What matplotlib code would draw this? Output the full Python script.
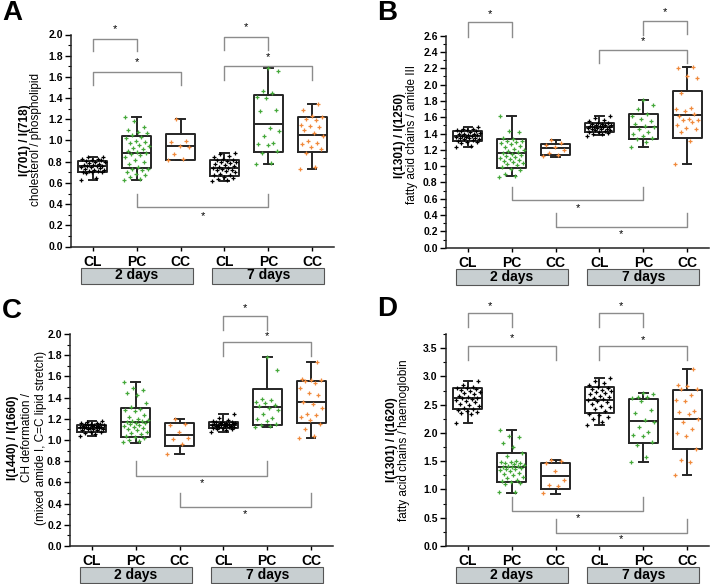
import matplotlib
matplotlib.use("Agg")
import matplotlib.pyplot as plt
from matplotlib.patches import Rectangle
from matplotlib.ticker import MultipleLocator
import numpy as np

plt.rcParams['font.family'] = ['Liberation Sans', 'DejaVu Sans']

groups = ['CL', 'PC', 'CC', 'CL', 'PC', 'CC']
days = ['2 days', '7 days']
colors = ['black', '#45a83a', '#f08a3c', 'black', '#45a83a', '#f08a3c']

# ---- panel A: cholesterol / phospholipid ----
a_points = [
    [0.63, 0.65, 0.69, 0.70, 0.70, 0.70, 0.71, 0.71, 0.72, 0.72, 0.73, 0.74, 0.75, 0.75, 0.76,
     0.76, 0.76, 0.77, 0.77, 0.78, 0.79, 0.80, 0.80, 0.81, 0.82, 0.82, 0.83, 0.83, 0.84, 0.84],
    [0.63, 0.64, 0.66, 0.67, 0.68, 0.70, 0.72, 0.73, 0.73, 0.75, 0.78, 0.80, 0.82, 0.84, 0.86,
     0.87, 0.88, 0.89, 0.90, 0.92, 0.93, 0.95, 0.96, 0.98, 0.99, 1.00, 1.02, 1.03, 1.05, 1.07,
     1.08, 1.10, 1.13, 1.18, 1.22],
    [0.82, 0.83, 0.87, 0.94, 0.95, 0.99, 1.00, 1.20],
    [0.62, 0.63, 0.64, 0.65, 0.66, 0.67, 0.67, 0.68, 0.70, 0.71, 0.72, 0.72, 0.73, 0.74, 0.74,
     0.75, 0.76, 0.77, 0.78, 0.79, 0.80, 0.80, 0.81, 0.82, 0.82, 0.83, 0.84, 0.85, 0.87, 0.88],
    [0.78, 0.79, 0.88, 0.90, 0.96, 0.97, 0.98, 1.04, 1.09, 1.12, 1.28, 1.29, 1.40, 1.41, 1.45,
     1.47, 1.66, 1.68],
    [0.73, 0.75, 0.88, 0.92, 0.94, 0.97, 0.98, 1.00, 1.04, 1.07, 1.10, 1.13, 1.14, 1.15, 1.19,
     1.20, 1.22, 1.23, 1.29, 1.34],
]
a_lo = [0.63, 0.63, 0.82, 0.62, 0.78, 0.735]
a_q1 = [0.70, 0.74, 0.82, 0.665, 0.89, 0.89]
a_med = [0.76, 0.885, 0.945, 0.745, 1.16, 1.055]
a_q3 = [0.81, 1.04, 1.065, 0.82, 1.43, 1.22]
a_hi = [0.84, 1.22, 1.20, 0.88, 1.68, 1.345]
# bracket: x1, x2, line y, leg end y1, leg end y2, star y
a_brackets = [(0, 1, 1.96, 1.84, 1.84, 2.05), (0, 2, 1.65, 1.52, 1.52, 1.74),
              (3, 4, 1.98, 1.85, 1.85, 2.07), (3, 5, 1.70, 1.57, 1.57, 1.79),
              (1, 4, 0.37, 0.50, 0.50, 0.285)]

# ---- panel B: fatty acid chains / amide III ----
b_points = [
    [1.23, 1.25, 1.28, 1.30, 1.30, 1.31, 1.32, 1.33, 1.33, 1.34, 1.35, 1.35, 1.36, 1.36, 1.37,
     1.37, 1.38, 1.38, 1.39, 1.40, 1.40, 1.41, 1.42, 1.43, 1.43, 1.44, 1.44, 1.45, 1.46, 1.48],
    [0.87, 0.88, 0.90, 0.95, 0.97, 0.99, 1.02, 1.03, 1.04, 1.05, 1.06, 1.08, 1.09, 1.10, 1.11,
     1.12, 1.14, 1.15, 1.16, 1.17, 1.18, 1.20, 1.21, 1.23, 1.25, 1.27, 1.29, 1.30, 1.31, 1.31,
     1.33, 1.35, 1.42, 1.43, 1.62],
    [1.12, 1.14, 1.16, 1.20, 1.24, 1.26, 1.29, 1.32],
    [1.37, 1.39, 1.40, 1.41, 1.42, 1.42, 1.43, 1.44, 1.44, 1.45, 1.46, 1.46, 1.47, 1.47, 1.48,
     1.48, 1.48, 1.49, 1.49, 1.50, 1.50, 1.51, 1.52, 1.52, 1.53, 1.53, 1.55, 1.57, 1.59, 1.61],
    [1.24, 1.30, 1.33, 1.34, 1.37, 1.40, 1.42, 1.45, 1.48, 1.49, 1.52, 1.55, 1.58, 1.62, 1.64,
     1.70, 1.75, 1.81],
    [1.03, 1.31, 1.42, 1.45, 1.47, 1.50, 1.54, 1.56, 1.57, 1.58, 1.62, 1.64, 1.68, 1.70, 1.71,
     1.90, 2.08, 2.10, 2.20, 2.21],
]
b_lo = [1.23, 0.88, 1.116, 1.38, 1.24, 1.03]
b_q1 = [1.31, 0.98, 1.137, 1.42, 1.33, 1.35]
b_med = [1.37, 1.157, 1.22, 1.476, 1.484, 1.63]
b_q3 = [1.435, 1.33, 1.275, 1.525, 1.64, 1.92]
b_hi = [1.48, 1.62, 1.32, 1.61, 1.81, 2.21]
b_brackets = [(0, 1, 2.77, 2.59, 2.59, 2.87), (4, 5, 2.785, 2.61, 2.62, 2.89),
              (3, 5, 2.43, 2.26, 2.26, 2.53), (1, 4, 0.585, 0.75, 0.75, 0.49),
              (2, 5, 0.26, 0.43, 0.43, 0.165)]

# ---- panel C: CH deformation / (mixed amide I, C=C lipid stretch) ----
c_points = [
    [1.04, 1.06, 1.07, 1.08, 1.08, 1.09, 1.09, 1.10, 1.10, 1.10, 1.11, 1.11, 1.11, 1.12, 1.12,
     1.12, 1.12, 1.13, 1.13, 1.13, 1.14, 1.14, 1.14, 1.15, 1.15, 1.15, 1.16, 1.16, 1.17, 1.18],
    [0.98, 0.99, 1.00, 1.02, 1.03, 1.04, 1.06, 1.07, 1.08, 1.09, 1.10, 1.11, 1.12, 1.13, 1.14,
     1.15, 1.16, 1.16, 1.17, 1.18, 1.18, 1.19, 1.20, 1.22, 1.24, 1.27, 1.28, 1.29, 1.31, 1.35,
     1.42, 1.44, 1.47, 1.49, 1.55],
    [0.87, 0.96, 1.01, 1.02, 1.08, 1.14, 1.15, 1.20],
    [1.08, 1.09, 1.10, 1.10, 1.11, 1.11, 1.12, 1.12, 1.12, 1.13, 1.13, 1.13, 1.14, 1.14, 1.14,
     1.14, 1.15, 1.15, 1.15, 1.15, 1.16, 1.16, 1.16, 1.17, 1.17, 1.17, 1.18, 1.19, 1.21, 1.25],
    [1.12, 1.13, 1.14, 1.15, 1.18, 1.20, 1.21, 1.25, 1.28, 1.30, 1.32, 1.33, 1.35, 1.36, 1.38,
     1.39, 1.66, 1.78],
    [1.02, 1.04, 1.10, 1.15, 1.19, 1.22, 1.24, 1.25, 1.30, 1.34, 1.36, 1.42, 1.44, 1.49, 1.54,
     1.56, 1.57, 1.57, 1.58, 1.74],
]
c_lo = [1.04, 0.976, 0.87, 1.08, 1.12, 1.017]
c_q1 = [1.08, 1.03, 0.94, 1.11, 1.137, 1.156]
c_med = [1.115, 1.168, 1.05, 1.14, 1.31, 1.354]
c_q3 = [1.145, 1.305, 1.156, 1.17, 1.48, 1.556]
c_hi = [1.18, 1.55, 1.20, 1.247, 1.78, 1.74]
c_brackets = [(3, 4, 2.17, 2.04, 2.04, 2.24), (3, 5, 1.925, 1.79, 1.79, 1.98),
              (1, 4, 0.665, 0.80, 0.80, 0.59), (2, 5, 0.365, 0.50, 0.50, 0.30)]

# ---- panel D: fatty acid chains / haemoglobin ----
d_points = [
    [2.17, 2.33, 2.36, 2.37, 2.38, 2.40, 2.42, 2.44, 2.47, 2.50, 2.52, 2.54, 2.57, 2.59, 2.60,
     2.61, 2.62, 2.64, 2.66, 2.68, 2.70, 2.72, 2.74, 2.76, 2.78, 2.79, 2.80, 2.82, 2.85, 2.91],
    [0.95, 0.96, 1.10, 1.12, 1.13, 1.15, 1.17, 1.20, 1.22, 1.25, 1.28, 1.30, 1.32, 1.35, 1.36,
     1.37, 1.38, 1.39, 1.40, 1.41, 1.42, 1.43, 1.45, 1.46, 1.47, 1.48, 1.49, 1.50, 1.60, 1.65,
     1.76, 1.83, 1.92, 1.95, 2.05],
    [0.93, 1.07, 1.08, 1.17, 1.33, 1.47, 1.50, 1.52],
    [2.14, 2.20, 2.24, 2.28, 2.32, 2.34, 2.38, 2.42, 2.45, 2.48, 2.52, 2.55, 2.57, 2.59, 2.60,
     2.62, 2.64, 2.66, 2.68, 2.70, 2.72, 2.74, 2.76, 2.78, 2.80, 2.82, 2.84, 2.88, 2.92, 2.97],
    [1.48, 1.57, 1.78, 1.84, 1.95, 1.97, 2.02, 2.10, 2.20, 2.23, 2.36, 2.40, 2.57, 2.62, 2.63,
     2.64, 2.68, 2.70],
    [1.26, 1.49, 1.52, 1.72, 1.94, 1.99, 2.07, 2.20, 2.24, 2.34, 2.37, 2.39, 2.57, 2.58, 2.67,
     2.77, 2.78, 2.83, 2.84, 3.13],
]
d_lo = [2.17, 0.945, 0.927, 2.14, 1.48, 1.26]
d_q1 = [2.43, 1.13, 1.015, 2.36, 1.82, 1.72]
d_med = [2.61, 1.393, 1.245, 2.59, 2.21, 2.24]
d_q3 = [2.80, 1.647, 1.47, 2.82, 2.60, 2.76]
d_hi = [2.91, 2.05, 1.52, 2.97, 2.70, 3.13]
d_brackets = [(0, 1, 4.12, 3.87, 3.87, 4.25), (0, 2, 3.53, 3.29, 3.29, 3.67),
              (3, 4, 4.12, 3.87, 3.87, 4.24), (3, 5, 3.53, 3.29, 3.29, 3.65),
              (1, 4, 0.62, 0.87, 0.87, 0.50), (2, 5, 0.235, 0.48, 0.48, 0.12)]

W, H = 711, 584
fig = plt.figure(figsize=(W / 100, H / 100), dpi=100)


def px_axes(left, top, width, height):
    return fig.add_axes([left / W, 1 - (top + height) / H, width / W, height / H])


def draw_panel(ax, points, lo, q1, med, q3, hi, brackets, ymax, major, minor, ylabels, lab_x, lab_y):
    stats = []
    for i in range(6):
        stats.append(dict(whislo=lo[i], q1=q1[i], med=med[i], q3=q3[i], whishi=hi[i], fliers=[]))
    lp = dict(color='#262626', linewidth=1.4)
    ax.bxp(stats, positions=range(6), widths=0.66, capwidths=0.2, showfliers=False,
           boxprops=lp, whiskerprops=lp, capprops=lp, medianprops=lp, manage_ticks=False)
    for i, vals in enumerate(points):
        n = len(vals)
        off = ((np.arange(n) * 0.618034) % 1.0 - 0.5) * 0.56
        ax.plot(i + off, vals, '+', color=colors[i], ms=2.8, mew=0.9, zorder=3, ls='none')

    for x1, x2, yl, e1, e2, ys in brackets:
        ax.plot([x1, x1, x2, x2], [e1, yl, yl, e2], color='#8c8c8c', lw=1.0, clip_on=False)
        ax.text((x1 + x2) / 2, ys, '*', ha='center', va='center', fontsize=8, clip_on=False)

    ax.set_xlim(-0.5, 5.5)
    ax.set_ylim(0, ymax)
    ax.yaxis.set_major_locator(MultipleLocator(major))
    ax.yaxis.set_minor_locator(MultipleLocator(minor))
    ax.yaxis.set_major_formatter(plt.FormatStrFormatter('%.1f'))
    ax.spines['top'].set_visible(False)
    ax.spines['right'].set_visible(False)
    for s in ['left', 'bottom']:
        ax.spines[s].set_linewidth(1.1)
        ax.spines[s].set_color('#222222')
    ax.tick_params(axis='y', which='major', length=4, width=1, labelsize=7.5, pad=2)
    ax.tick_params(axis='y', which='minor', length=2, width=0.8)
    ax.set_xticks(range(6))
    ax.set_xticklabels(groups, fontsize=10, fontweight='bold')
    ax.tick_params(axis='x', length=3, width=1, pad=3)
    for lab in ax.get_yticklabels():
        lab.set_fontweight('bold')

    tr = ax.get_xaxis_transform()
    ax_h = ax.get_position().height * H
    for k, name in enumerate(days):
        cx = 1 + 3 * k
        r = Rectangle((cx - 1.28, -37 / ax_h), 2.56, 16 / ax_h, transform=tr, clip_on=False,
                      facecolor='#c8cfd1', edgecolor='#555555', lw=0.8)
        ax.add_patch(r)
        ax.text(cx, -29 / ax_h, name, transform=tr, ha='center', va='center',
                fontsize=10, fontweight='bold')

    for j, (txt, xx) in enumerate(zip(ylabels, lab_x)):
        fig.text(xx / W, 1 - lab_y / H, txt, rotation=90, ha='center', va='center',
                 fontsize=8.5, fontweight='bold' if j == 0 else 'normal')
    return ax


axA = px_axes(71, 34.5, 263, 212)
draw_panel(axA, a_points, a_lo, a_q1, a_med, a_q3, a_hi, a_brackets, 2.0, 0.2, 0.1,
           ['I(701) / I(718)', 'cholesterol / phospholipid'], [25, 36], 140)
axB = px_axes(446, 35.7, 263, 212)
draw_panel(axB, b_points, b_lo, b_q1, b_med, b_q3, b_hi, b_brackets, 2.6, 0.2, 0.1,
           ['I(1301) / I(1250)', 'fatty acid chains / amide III'], [400, 412], 135)
axC = px_axes(70, 334, 263, 212)
draw_panel(axC, c_points, c_lo, c_q1, c_med, c_q3, c_hi, c_brackets, 2.0, 0.2, 0.1,
           ['I(1440) / I(1660)', 'CH deformation /', '(mixed amide I, C=C lipid stretch)'],
           [13, 27, 41], 438)
axD = px_axes(446, 334, 263, 212)
draw_panel(axD, d_points, d_lo, d_q1, d_med, d_q3, d_hi, d_brackets, 3.75, 0.5, 0.25,
           ['I(1301) / I(1620)', 'fatty acid chains / haemoglobin'], [392, 404], 440)

for letter, x, y in [('A', 12, 13), ('B', 387, 13), ('C', 12, 311), ('D', 387, 309)]:
    fig.text(x / W, 1 - y / H, letter, fontsize=20, fontweight='bold', ha='center', va='center')

fig.savefig('out.png', dpi=100)
